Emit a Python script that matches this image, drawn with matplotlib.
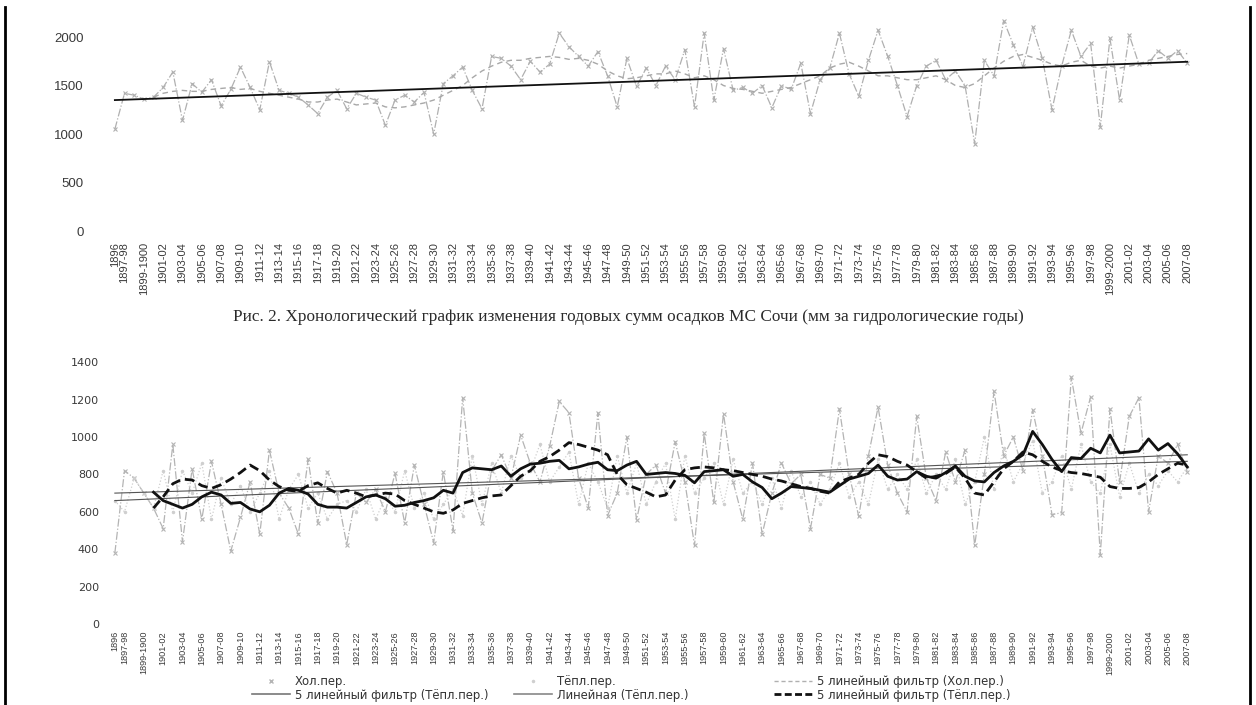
import matplotlib
matplotlib.use('Agg')
import matplotlib.pyplot as plt
from matplotlib.lines import Line2D
import numpy as np


def hydro_label(y):
    nxt = y + 1
    return '%d-%s' % (y, nxt if nxt % 100 == 0 else '%02d' % (nxt % 100))


# hydrological years: 1896, 1897-98 ... 2007-08
years = ['1896'] + [hydro_label(y) for y in range(1897, 2008)]

# annual sums, mm
annual = [1050, 1420, 1400, 1360, 1380, 1480, 1640, 1140, 1520, 1430,
          1560, 1290, 1460, 1690, 1480, 1250, 1745, 1450, 1420, 1380,
          1300, 1210, 1380, 1450, 1260, 1420, 1380, 1350, 1090, 1350,
          1400, 1330, 1430, 1000, 1520, 1600, 1690, 1450, 1260, 1800,
          1780, 1700, 1560, 1750, 1640, 1720, 2040, 1900, 1800, 1700,
          1850, 1600, 1280, 1780, 1490, 1680, 1500, 1700, 1560, 1870,
          1280, 2040, 1350, 1880, 1450, 1480, 1420, 1500, 1270, 1500,
          1460, 1730, 1210, 1560, 1680, 2040, 1620, 1390, 1760, 2070,
          1800, 1500, 1180, 1500, 1700, 1760, 1560, 1650, 1500, 900,
          1760, 1600, 2170, 1920, 1700, 2100, 1780, 1250, 1700, 2070,
          1800, 1935, 1075, 1985, 1350, 2020, 1720, 1730, 1860, 1780,
          1860, 1730]
# 5-year filter of annual sums (from 1899-1900)
annual_filt = [1380, 1420, 1440, 1450, 1440, 1440, 1460, 1470, 1480, 1460,
               1470, 1440, 1420, 1400, 1380, 1360, 1330, 1330, 1350, 1360,
               1330, 1300, 1310, 1320, 1280, 1270, 1280, 1300, 1320, 1350,
               1400, 1450, 1500, 1580, 1650, 1700, 1740, 1760, 1760, 1780,
               1790, 1800, 1790, 1770, 1780, 1760, 1720, 1650, 1600, 1570,
               1580, 1600, 1620, 1620, 1650, 1620, 1580, 1600, 1560, 1500,
               1470, 1460, 1440, 1420, 1440, 1460, 1480, 1520, 1560, 1600,
               1680, 1720, 1740, 1700, 1650, 1600, 1600, 1580, 1560, 1560,
               1580, 1600, 1560, 1500, 1480, 1520, 1600, 1680, 1750, 1800,
               1820, 1790, 1760, 1720, 1700, 1740, 1760, 1700, 1680, 1700,
               1680, 1700, 1720, 1760, 1780, 1800, 1820, 1830]
annual_trend = [1350, 1745]

# cold and warm period sums, mm
cold = [380, 820, 780, 700, 620, 510, 960, 440, 830, 560,
        870, 640, 390, 570, 760, 480, 930, 700, 620, 480,
        880, 540, 815, 700, 425, 700, 650, 720, 600, 806,
        540, 850, 640, 435, 815, 500, 1210, 700, 540, 820,
        905, 780, 1010, 860, 760, 950, 1190, 1130, 780, 620,
        1130, 580, 700, 1000, 556, 800, 850, 700, 975, 760,
        420, 1020, 650, 1125, 760, 560, 860, 480, 700, 860,
        750, 800, 510, 800, 780, 1150, 800, 575, 900, 1160,
        850, 700, 600, 1110, 780, 660, 920, 760, 930, 420,
        800, 1245, 900, 1000, 820, 1145, 900, 585, 595, 1320,
        1020, 1215, 370, 1150, 760, 1110, 1210, 600, 900, 860,
        960, 815]
warm = [660, 600, 780, 700, 620, 820, 600, 820, 700, 860,
        560, 780, 640, 740, 600, 700, 820, 560, 720, 800,
        620, 700, 560, 640, 660, 600, 720, 560, 680, 600,
        820, 620, 700, 560, 640, 720, 580, 900, 640, 860,
        700, 900, 780, 820, 960, 760, 840, 920, 640, 860,
        760, 620, 900, 700, 860, 640, 760, 860, 560, 900,
        700, 780, 860, 640, 880, 700, 760, 640, 780, 620,
        820, 680, 760, 640, 720, 860, 680, 760, 640, 880,
        720, 800, 720, 880, 700, 800, 720, 880, 640, 760,
        1000, 720, 940, 760, 860, 980, 700, 760, 900, 720,
        960, 760, 700, 960, 680, 860, 700, 800, 740, 820,
        760, 840]
# 5-year filters (from 1899-1900)
filt_solid = [705, 660, 640, 620, 640, 680, 705, 690, 645, 650,
              615, 600, 635, 700, 725, 715, 695, 640, 625, 625,
              620, 650, 680, 690, 670, 630, 635, 650, 660, 675,
              715, 700, 810, 835, 830, 825, 845, 790, 830, 855,
              860, 870, 875, 830, 840, 855, 865, 825, 820, 850,
              870, 800, 805, 810, 805, 795, 755, 815, 820, 825,
              790, 800, 760, 730, 670, 700, 735, 730, 725, 715,
              705, 740, 775, 790, 805, 850, 790, 770, 775, 815,
              790, 780, 810, 845, 790, 765, 760, 810, 845, 870,
              905, 1030, 960, 880, 815, 890, 885, 940, 915, 1010,
              915, 920, 925, 990, 930, 965, 910, 840]
filt_dash = [620, 680, 750, 775, 770, 740, 725, 745, 775, 810,
             850, 820, 770, 735, 715, 710, 740, 755, 725, 700,
             715, 700, 680, 690, 700, 695, 660, 640, 620, 600,
             592, 610, 645, 660, 675, 685, 690, 740, 790, 820,
             870, 895, 930, 970, 960, 945, 930, 905, 800, 745,
             725, 705, 680, 690, 770, 825, 835, 840, 835, 825,
             820, 810, 800, 790, 775, 765, 750, 735, 725, 710,
             700, 760, 780, 800, 860, 905, 895, 870, 850, 815,
             780, 790, 805, 840, 780, 700, 690, 760, 830, 870,
             920, 905, 870, 840, 820, 810, 805, 795, 785, 735,
             725, 725, 730, 760, 800, 830, 860, 850]
trend_a = [660, 905]
trend_b = [700, 870]

caption = ('Рис. 2. Хронологический график изменения годовых сумм осадков '
           'МС Сочи (мм за гидрологические годы)')

x = np.arange(len(years))
xf = x[4:]
xe = [x[0], x[-1]]
tick_idx = [0] + list(range(1, len(years), 2))


def style_axes(ax, ymax, step, yfont, xfont, ypad, xpad, yfamily):
    ax.set_xlim(-0.5, len(years) - 0.5)
    ax.set_ylim(0, ymax)
    ax.set_yticks(np.arange(0, ymax + 1, step))
    ax.set_xticks(tick_idx)
    ax.set_xticklabels([years[i] for i in tick_idx], rotation=90)
    for s in ax.spines.values():
        s.set_visible(False)
    ax.tick_params(length=0, colors='#3a3a3a')
    ax.tick_params(axis='y', labelsize=yfont, pad=ypad)
    ax.tick_params(axis='x', labelsize=xfont, pad=xpad)
    for t in ax.get_yticklabels():
        t.set_family(yfamily)


fig = plt.figure(figsize=(12.56, 7.05), dpi=100)
plt.rcParams['font.family'] = ['Liberation Sans', 'DejaVu Sans']

# top: annual sums
ax1 = fig.add_axes([0.0876, 0.6723, 0.8615, 0.3027])
ax1.plot(x, annual, color='#b0b0b0', lw=0.9, ls='-.', marker='x', ms=3,
         mew=0.8)
ax1.plot(xf, annual_filt, color='#a8a8a8', lw=1.0, ls='--', dashes=(4, 3))
ax1.plot(xe, annual_trend, color='#111111', lw=1.3)
style_axes(ax1, 2200, 500, 9.5, 8.0, 19, 8, 'Liberation Sans')
ax1.set_yticks([0, 500, 1000, 1500, 2000])

fig.text(0.5, 0.551, caption, ha='center', va='center',
         family='Liberation Serif', fontsize=12.4, color='#2a2a2a')

# bottom: cold and warm periods
ax2 = fig.add_axes([0.0876, 0.1149, 0.8615, 0.3713])
ax2.plot(x, cold, color='#b4b4b4', lw=0.9, ls='-.', marker='x', ms=3,
         mew=0.8)
ax2.plot(x, warm, color='#cfcfcf', lw=0.9, ls=':', marker='.', ms=3)
ax2.plot(xe, trend_a, color='#555555', lw=0.8)
ax2.plot(xe, trend_b, color='#555555', lw=0.8)
ax2.plot(xf, filt_solid, color='#111111', lw=2.0)
ax2.plot(xf, filt_dash, color='#111111', lw=2.0, ls='--', dashes=(3.5, 1.8))
style_axes(ax2, 1400, 200, 8, 6.6, 8, 5, 'DejaVu Sans')

# legend in three fixed columns
legend_cols = [
    (248, [Line2D([], [], color='#b4b4b4', lw=0, marker='x', ms=3),
           Line2D([], [], color='#777777', lw=1.2)],
     ['Хол.пер.', '5 линейный фильтр (Тёпл.пер.)']),
    (510, [Line2D([], [], color='#cfcfcf', lw=0, marker='.', ms=3),
           Line2D([], [], color='#888888', lw=1.2)],
     ['Тёпл.пер.', 'Линейная (Тёпл.пер.)']),
    (770, [Line2D([], [], color='#b0b0b0', lw=1.0, ls='--', dashes=(3, 2)),
           Line2D([], [], color='#111111', lw=2.0, ls='--',
                  dashes=(2.5, 1.2))],
     ['5 линейный фильтр (Хол.пер.)', '5 линейный фильтр (Тёпл.пер.)']),
]
for left, hs, ls in legend_cols:
    fig.legend(hs, ls, loc='lower left',
               bbox_to_anchor=(left / 1256, 0.0), borderpad=0.3,
               borderaxespad=0, frameon=False,
               prop={'family': 'DejaVu Sans', 'size': 8.4},
               handlelength=3.3, handletextpad=0.4, labelspacing=0.0,
               labelcolor='#333333')

# page borders
fig.add_artist(Line2D([0.004, 0.004], [0.0, 0.99], color='black', lw=2))
fig.add_artist(Line2D([0.995, 0.995], [0.0, 0.99], color='black', lw=2))

fig.savefig('out.png', dpi=100)
